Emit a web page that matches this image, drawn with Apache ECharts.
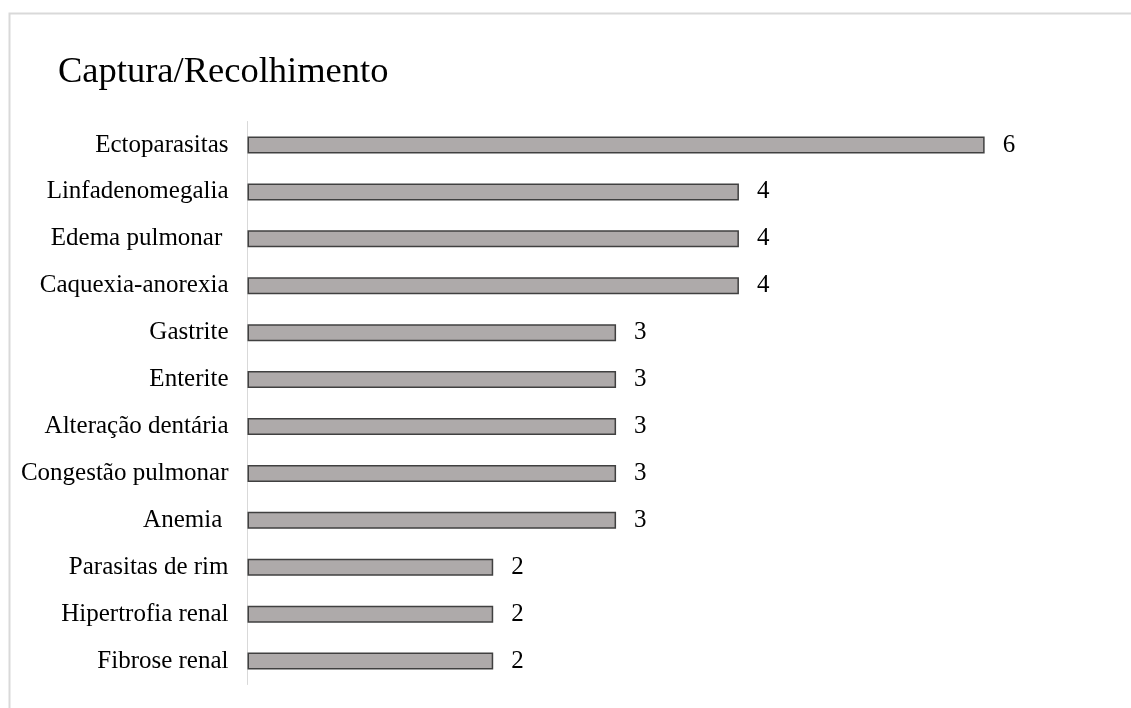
<!DOCTYPE html>
<html>
<head>
<meta charset="utf-8">
<script src="https://cdn.jsdelivr.net/npm/echarts@6/dist/echarts.min.js"></script>
<style>
  html, body { margin: 0; padding: 0; background: #ffffff; }
  #chart { width: 1131px; height: 708px; }
</style>
</head>
<body>
<div id="chart"></div>
<script>
// Findings, listed top to bottom as shown
const categories = [
  'Ectoparasitas',
  'Linfadenomegalia',
  'Edema pulmonar ',
  'Caquexia-anorexia',
  'Gastrite',
  'Enterite',
  'Alteração dentária',
  'Congestão pulmonar',
  'Anemia ',
  'Parasitas de rim',
  'Hipertrofia renal',
  'Fibrose renal'
];
const counts = [6, 4, 4, 4, 3, 3, 3, 3, 3, 2, 2, 2];
const titleText = 'Captura/Recolhimento';

const serif = '"Liberation Serif", "DejaVu Serif", serif';
const chart = echarts.init(document.getElementById('chart'));

chart.setOption({
  backgroundColor: '#ffffff',
  animation: false,
  title: {
    text: titleText,
    left: 53,
    top: 49,
    textStyle: { fontFamily: serif, fontSize: 36.5, fontWeight: 'normal', color: '#000000' }
  },
  graphic: [{
    type: 'rect',
    shape: { x: 9.5, y: 13.5, width: 1140, height: 720 },
    style: { fill: 'none', stroke: '#d9d9d9', lineWidth: 2 },
    silent: true
  }],
  grid: { left: 247.5, right: 23.5, top: 121.5, bottom: 23.5, containLabel: false },
  xAxis: {
    type: 'value',
    min: 0,
    max: 7,
    show: false
  },
  yAxis: {
    type: 'category',
    inverse: true,
    data: categories,
    axisLine: { show: true, lineStyle: { color: '#d9d9d9', width: 1 } },
    axisTick: { show: false },
    axisLabel: {
      margin: 19,
      fontFamily: serif,
      fontSize: 25,
      color: '#000000'
    }
  },
  series: [{
    type: 'bar',
    data: counts,
    barWidth: 17,
    itemStyle: { color: '#aeaaaa', borderColor: '#404040', borderWidth: 1.5 },
    label: {
      show: true,
      position: 'right',
      distance: 18,
      fontFamily: serif,
      fontSize: 25,
      color: '#000000'
    }
  }]
});
</script>
</body>
</html>
